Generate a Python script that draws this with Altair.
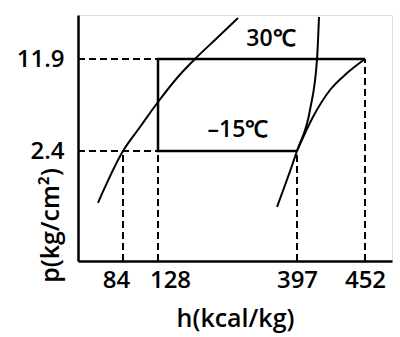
import altair as alt
import pandas as pd

# tick values
h_ticks = [84, 128, 397, 452]
p_ticks = [2.4, 11.9]

# saturated liquid line
liq_h = [37.3, 84, 105.4, 128, 164.8, 199.6, 242.2, 282.8]
liq_p = [1.27, 2.4, 4.88, 7.46, 9.94, 11.9, 13.38, 14.79]

# saturated vapour line
vap_h = [358.3, 397, 407.5, 413.2, 414.8]
vap_p = [1.18, 2.4, 6.63, 11.9, 14.86]

# compression curve
comp_h = [397, 409.9, 423.7, 437.5, 452]
comp_p = [2.4, 5.91, 8.70, 10.45, 11.9]

# cycle (evaporation, expansion, condensation)
cycle_h = [397, 128, 128, 452]
cycle_p = [2.4, 2.4, 11.9, 11.9]

# dashed guide lines
guide_h = [0, 0, 84, 128, 397, 452]
guide_h2 = [128, 128, 84, 128, 397, 452]
guide_p = [11.9, 2.4, 0, 0, 0, 0]
guide_p2 = [11.9, 2.4, 2.4, 2.4, 2.4, 11.9]

# temperature labels
lab_text = ["30℃", "–15℃"]
lab_h = [346.7, 282.8]
lab_p = [13.31, 4.57]

FONT = "Open Sans"
W = 600

xscale = alt.Scale(domain=[0, 84, 128, 397, 452, 500], range=[0, 45, 80, 219, 287, 314])
yscale = alt.Scale(domain=[0, 2.4, 11.9, 15], range=[246, 136, 44, 0])

xaxis = alt.Axis(values=h_ticks, format="d", title="h(kcal/kg)", grid=False, ticks=False,
                 tickSize=0, labelPadding=7, labelFontSize=24, labelFont=FONT,
                 labelFontWeight=W, labelColor="black",
                 labelOffset={"condition": [{"test": "datum.value == 84", "value": -7},
                                            {"test": "datum.value == 128", "value": 12}],
                              "value": 0},
                 titleFont=FONT, titleFontSize=25, titleFontWeight=W, titleColor="black",
                 titleY=57, titleBaseline="middle", domainColor="black", domainWidth=2.5,
                 labelFlush=False, labelOverlap=False)
yaxis = alt.Axis(values=p_ticks, format=".1f", title="p(kg/cm²)", grid=False, ticks=False,
                 tickSize=0, labelPadding=14, labelFontSize=24, labelFont=FONT,
                 labelFontWeight=W, labelColor="black",
                 titleFont=FONT, titleFontSize=25, titleFontWeight=W, titleColor="black",
                 titleX=-28, titleY=210, titleAlign="center", titleBaseline="middle", titleAngle=270,
                 domainColor="black", domainWidth=2.5, labelFlush=False, labelOverlap=False)


def X(f="h"):
    return alt.X(f"{f}:Q", scale=xscale, axis=xaxis)


def Y(f="p"):
    return alt.Y(f"{f}:Q", scale=yscale, axis=yaxis)


liq = pd.DataFrame({"h": liq_h, "p": liq_p})
vap = pd.DataFrame({"h": vap_h, "p": vap_p})
comp = pd.DataFrame({"h": comp_h, "p": comp_p})
cyc = pd.DataFrame({"h": cycle_h, "p": cycle_p, "o": list(range(len(cycle_h)))})
guides = pd.DataFrame({"h": guide_h, "h2": guide_h2, "p": guide_p, "p2": guide_p2})
labs = pd.DataFrame({"t": lab_text, "h": lab_h, "p": lab_p})

guide_layer = alt.Chart(guides).mark_rule(color="black", strokeWidth=2, strokeDash=[7, 4]).encode(
    x=X(), x2="h2:Q", y=Y(), y2="p2:Q")

curve_kw = dict(color="black", strokeWidth=2, interpolate="monotone")
liq_layer = alt.Chart(liq).mark_line(**curve_kw).encode(x=X(), y=Y(), order="h:Q")
vap_layer = alt.Chart(vap).mark_line(**curve_kw).encode(x=X(), y=Y(), order="p:Q")
comp_layer = alt.Chart(comp).mark_line(**curve_kw).encode(x=X(), y=Y(), order="h:Q")
cyc_layer = alt.Chart(cyc).mark_line(color="black", strokeWidth=2.5, strokeJoin="miter").encode(
    x=X(), y=Y(), order="o:Q")
text_layer = alt.Chart(labs).mark_text(font=FONT, fontSize=23, fontWeight=W, color="black").encode(
    x=X(), y=Y(), text="t:N")

chart = alt.layer(guide_layer, liq_layer, vap_layer, comp_layer, cyc_layer, text_layer).properties(
    width=314, height=246,
    autosize=alt.AutoSizeParams(type="none"),
    padding={"left": 78, "top": 15, "right": 8, "bottom": 76},
).configure_view(stroke=None).configure(background="white")

chart.save("out.html", embed_options={"renderer": "svg", "actions": False})
